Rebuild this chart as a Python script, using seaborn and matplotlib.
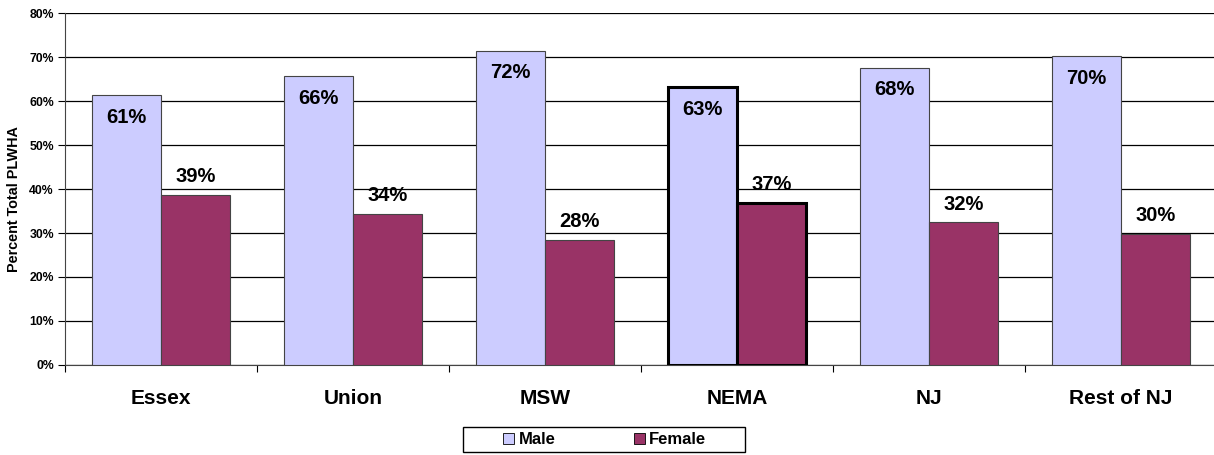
import matplotlib
matplotlib.use("Agg")
import matplotlib.pyplot as plt
import seaborn as sns
import pandas as pd
from matplotlib.patches import Rectangle
from matplotlib.ticker import PercentFormatter

# data
regions = ["Essex", "Union", "MSW", "NEMA", "NJ", "Rest of NJ"]
male = [61.3, 65.7, 71.5, 63.2, 67.6, 70.2]
female = [38.7, 34.3, 28.5, 36.8, 32.4, 29.8]

df = pd.DataFrame({
    "region": regions * 2,
    "sex": ["Male"] * len(regions) + ["Female"] * len(regions),
    "pct": male + female,
})

sns.set_style("white")
plt.rcParams["font.family"] = ["Liberation Sans", "DejaVu Sans"]
plt.rcParams["text.color"] = "black"
plt.rcParams["xtick.color"] = "black"
plt.rcParams["ytick.color"] = "black"
plt.rcParams["axes.labelcolor"] = "black"

fig = plt.figure(figsize=(12.14, 4.55), dpi=100)
ax = fig.add_axes([0.0535, 0.198, 0.9489, 0.773])

sns.barplot(data=df, x="region", y="pct", hue="sex", order=regions,
            hue_order=["Male", "Female"],
            palette={"Male": "#CCCCFF", "Female": "#993366"}, saturation=1,
            width=0.715, edgecolor="#444444", linewidth=0.8, ax=ax, zorder=3)

# highlight NEMA
for cont in ax.containers:
    cont[3].set_edgecolor("black")
    cont[3].set_linewidth(2.2)

# value labels
for bar, v in zip(ax.containers[0], male):
    ax.text(bar.get_x() + bar.get_width() / 2, v - 2.9, f"{v:.0f}%",
            ha="center", va="top", fontsize=14.5, fontweight="bold", zorder=5)
for bar, v in zip(ax.containers[1], female):
    ax.text(bar.get_x() + bar.get_width() / 2, v + 2.0, f"{v:.0f}%",
            ha="center", va="bottom", fontsize=14.5, fontweight="bold", zorder=5)

ax.set_ylim(0, 80)
ax.set_yticks(range(0, 81, 10))
ax.yaxis.set_major_formatter(PercentFormatter(decimals=0))
ax.set_xlim(-0.5, len(regions) - 0.5)
ax.grid(axis="y", color="black", linewidth=0.9, zorder=0)
ax.set_axisbelow(True)

for s in ["top", "right"]:
    ax.spines[s].set_visible(False)
ax.spines["left"].set_color("#444444")
ax.spines["bottom"].set_color("#444444")

ax.tick_params(axis="y", labelsize=8.8, length=5, direction="out", left=True, width=0.8, pad=3)
for t in ax.get_yticklabels():
    t.set_fontweight("bold")
ax.set_xticks(range(len(regions)))
ax.set_xticklabels(regions, fontsize=15, fontweight="bold")
ax.set_xticks([i + 0.5 for i in range(-1, len(regions))], minor=True)
ax.tick_params(axis="x", which="major", length=0, pad=17)
ax.tick_params(axis="x", which="minor", length=5, bottom=True, width=0.8)

ax.set_xlabel("")
ax.set_ylabel("Percent Total PLWHA", fontsize=10.4, fontweight="bold")
ax.yaxis.set_label_coords(-0.038, 0.472)

# legend with its own box
leg = ax.legend(loc="center", bbox_to_anchor=(0.498, 0.033),
                bbox_transform=fig.transFigure, ncol=2, frameon=False,
                handlelength=0.66, handleheight=0.66, columnspacing=4.7,
                prop={"weight": "bold", "size": 12}, handletextpad=0.25)
for h in leg.legend_handles:
    h.set_edgecolor("black")
    h.set_linewidth(0.6)
fig.patches.append(Rectangle((0.3814, 0.006), 0.2323, 0.056, transform=fig.transFigure,
                             fill=False, edgecolor="black", linewidth=1.0))

fig.savefig("out.png", dpi=100)
